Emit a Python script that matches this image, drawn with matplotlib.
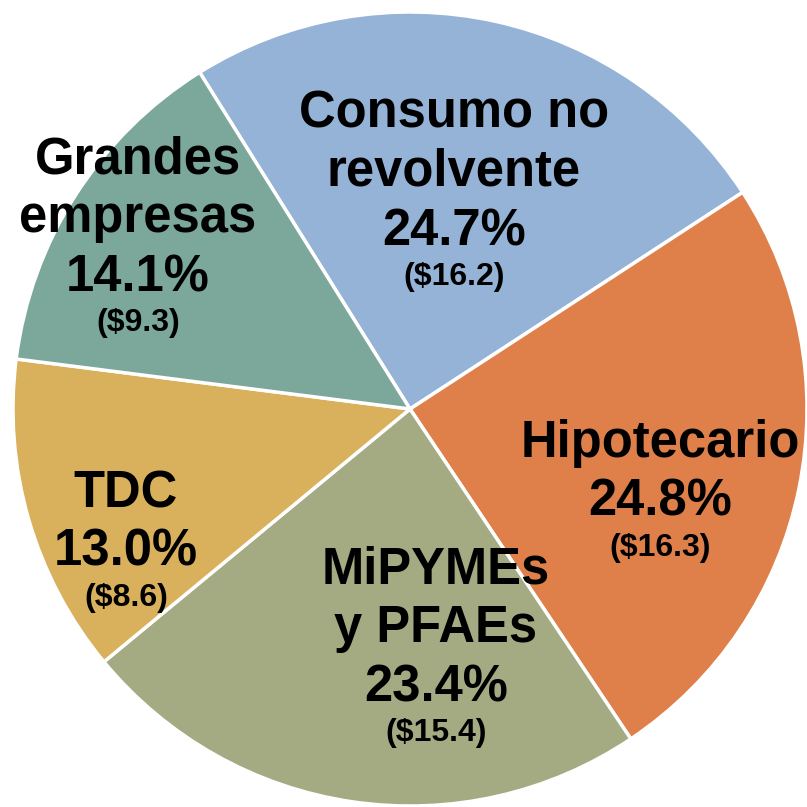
import matplotlib.pyplot as plt

plt.rcParams['font.family'] = ['Liberation Sans', 'DejaVu Sans']

# data
categories = ['Consumo no\nrevolvente', 'Hipotecario', 'MiPYMEs\ny PFAEs', 'TDC', 'Grandes\nempresas']
shares = [24.7, 24.8, 23.4, 13.0, 14.1]
amounts = [16.2, 16.3, 15.4, 8.6, 9.3]
colors = ['#95B3D7', '#DF7F4A', '#A4AB82', '#D9B05C', '#7BA89B']

# layout: text block center x and baseline of first line, in pixels
label_pos = [(454, 127), (660, 457), (436, 583), (126, 507), (138, 173)]
line_step = 59
value_gap = 40

W = 807
fig = plt.figure(figsize=(W / 100, W / 100), dpi=100)
ax = fig.add_axes([0, 0, 1, 1])
r = 397
cx, cy = 410, 409
ax.pie(shares, colors=colors, startangle=122, counterclock=False, radius=1,
       wedgeprops=dict(edgecolor='white', linewidth=2.5))
ax.set_xlim(-cx / r, (W - cx) / r)
ax.set_ylim(-(W - cy) / r, cy / r)
ax.set_aspect('equal')
ax.axis('off')

for name, pct, amt, (px, py) in zip(categories, shares, amounts, label_pos):
    lines = name.split('\n') + [f'{pct:.1f}%']
    y = py
    for ln in lines:
        fig.text(px / W, 1 - y / W, ln, ha='center', va='baseline',
                 fontsize=36.5, fontweight='bold')
        y += line_step
    y = y - line_step + value_gap
    fig.text(px / W, 1 - y / W, f'(${amt:.1f})', ha='center', va='baseline',
             fontsize=23, fontweight='bold')

fig.savefig('out.png', dpi=100)
